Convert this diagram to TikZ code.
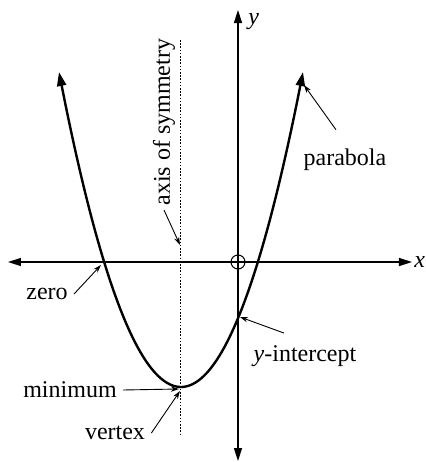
\documentclass[tikz,border=0pt]{standalone}
\usepackage{fontspec}
\setmainfont{Liberation Serif}
\usetikzlibrary{arrows.meta}

\begin{document}
\begin{tikzpicture}[
		x=0.5pt, y=0.5pt,
		axis/.style={line width=0.75pt, {Triangle[length=6.5pt,width=4pt]}-{Triangle[length=6.5pt,width=4pt]}},
		curve/.style={line width=1.2pt, {Triangle[length=7pt,width=4.5pt]}-{Triangle[length=7pt,width=4.5pt]}},
		symline/.style={line width=0.5pt, dash pattern=on 0.8pt off 0.8pt},
		lbl/.style={inner sep=3pt, font=\rmfamily\fontsize{12}{14}\selectfont},
		pointer/.style={-{Stealth[length=4pt,width=2.6pt]}, line width=0.45pt}
	]
	\useasboundingbox (-238,-200) rectangle (188,262);

	\coordinate (xmin) at (-230,0);
	\coordinate (xmax) at (174,0);
	\coordinate (ymin) at (0,-199);
	\coordinate (ymax) at (0,252);
	\coordinate (symtop) at (-57,222);
	\coordinate (symbot) at (-57,-172);

	\coordinate (axpt) at (-58,17);
	\coordinate (parabpt) at (66,177);
	\coordinate (zeropt) at (-137,-3);
	\coordinate (minpt) at (-59,-127);
	\coordinate (vtxpt) at (-58,-129);
	\coordinate (yintpt) at (2,-55);

	\draw[symline] (symtop) -- (symbot);
	\draw[axis] (xmin) -- (xmax);
	\draw[axis] (ymin) -- (ymax);
	\node[circle, draw, line width=0.5pt, minimum size=7pt, inner sep=0pt] (orig) at (0,0) {};
	\draw[curve, domain=-122:122, samples=80, smooth] plot ({\x-57}, {-125+0.02116*\x*\x});

	\node[lbl, inner sep=1pt, anchor=west] (xlab) at (xmax) {\textit{x}};
	\node[lbl, inner sep=1pt, anchor=north west] (ylab) at (8,251) {\textit{y}};

	\node[lbl, rotate=90, anchor=west, inner sep=2pt] (axsym) at (-74,52) {axis of symmetry};
	\node[lbl] (parab) at (107,102) {parabola};
	\node[lbl] (zero) at (-191,-32) {zero};
	\node[lbl] (mini) at (-168,-128) {minimum};
	\node[lbl] (vtx) at (-123,-171) {vertex};
	\node[lbl] (yint) at (67,-94) {\textit{y}-intercept};

	\draw[pointer] (axsym.west) -- (axpt);
	\draw[pointer] ([xshift=-4.5pt,yshift=6.5pt]parab.north) -- (parabpt);
	\draw[pointer] (zero.east) -- (zeropt);
	\draw[pointer] (mini.east) -- (minpt);
	\draw[pointer] (vtx.east) -- (vtxpt);
	\draw[pointer] ([xshift=-10.5pt,yshift=3pt]yint.north) -- (yintpt);
\end{tikzpicture}
\end{document}
